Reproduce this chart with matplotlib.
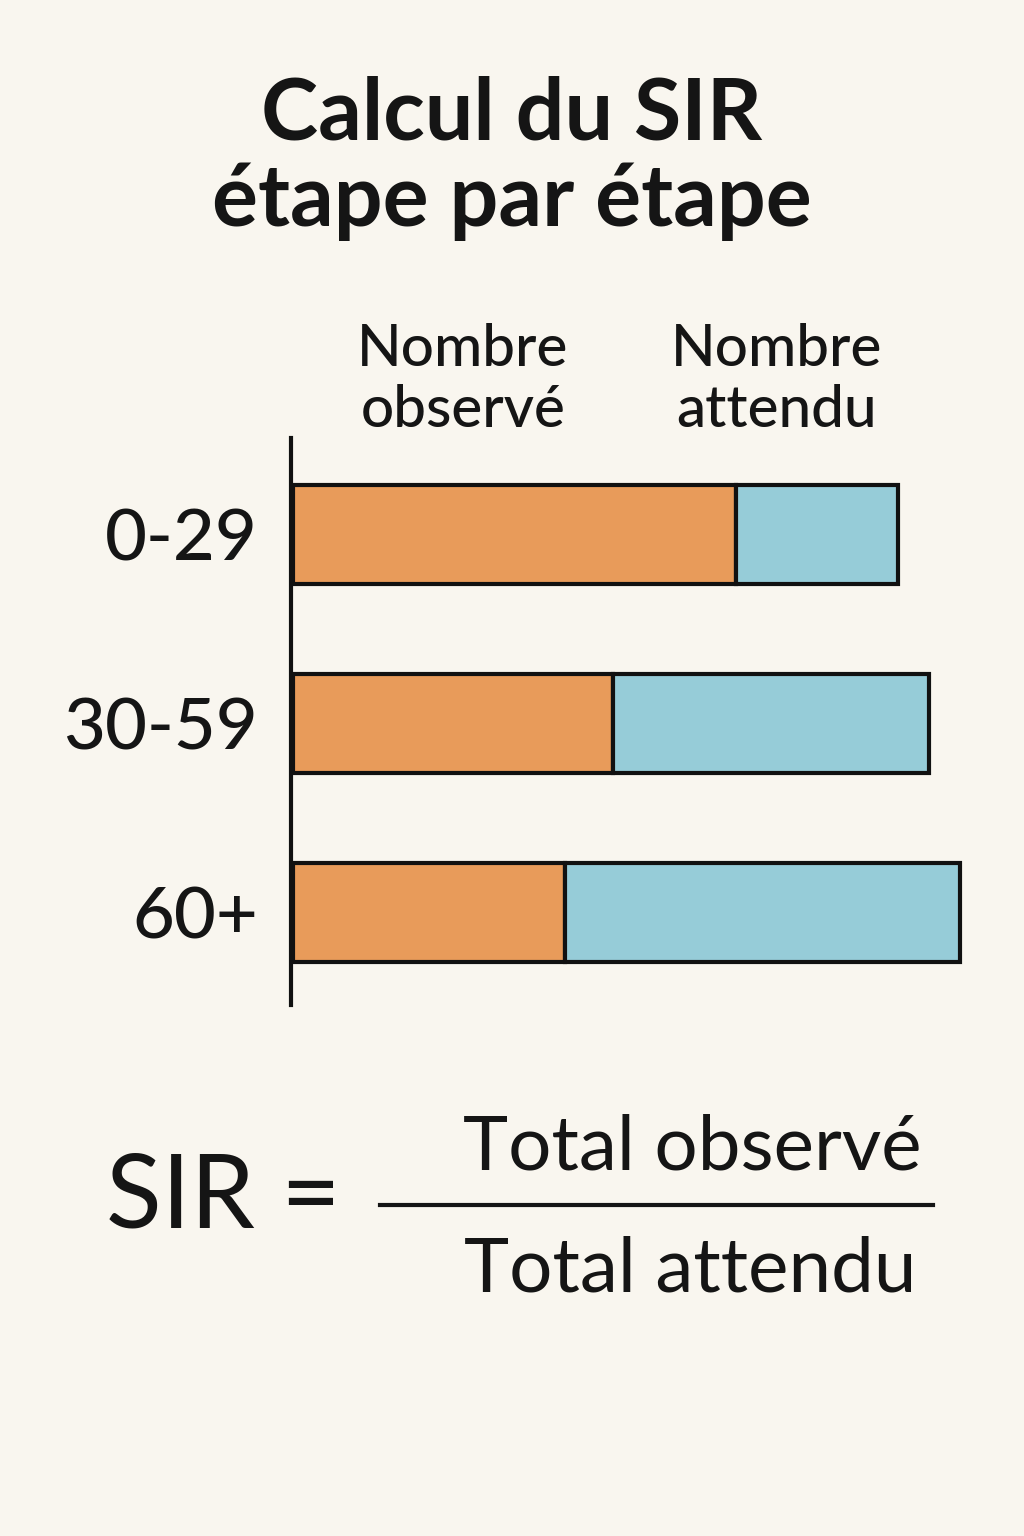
import matplotlib
matplotlib.use("Agg")
import matplotlib.pyplot as plt

# data
groups = ["0-29", "30-59", "60+"]
observed = [101, 73, 62]
expected = [37, 72, 90]
headers = ["Nombre\nobservé", "Nombre\nattendu"]

bg = "#F9F6EF"
orange = "#E89B5A"
blue = "#96CCD8"

W, H = 1024, 1536
fig = plt.figure(figsize=(W / 100, H / 100), dpi=100, facecolor=bg)

def fx(px):
    return px / W

def fy(py):
    return 1 - py / H

plt.rcParams['font.family'] = ['Lato', 'DejaVu Sans']

# title
fig.text(fx(512), fy(158), "Calcul du SIR\nétape par étape", ha="center", va="center",
         fontsize=62, fontweight="bold", color="#151515", linespacing=1.12)

# bar axes
ax = fig.add_axes([fx(291), fy(1005), fx(720), (1005 - 438) / H])
ax.set_facecolor("none")
ypos = list(range(len(groups)))
ax.barh(ypos, observed, height=0.52, color=orange, edgecolor="#111111", linewidth=3)
ax.barh(ypos, expected, left=observed, height=0.52, color=blue, edgecolor="#111111", linewidth=3)
ax.set_xlim(-0.4, 720 / 4.4)
ax.set_ylim(2.49, -0.51)
for s in ["top", "right", "bottom"]:
    ax.spines[s].set_visible(False)
ax.spines["left"].set_linewidth(3)
ax.spines["left"].set_color("#111111")
ax.set_xticks([])
ax.set_yticks(ypos)
ax.set_yticklabels(groups, fontsize=52, color="#151515", fontweight="medium")
ax.tick_params(axis="y", length=0, pad=24)

# column headers
fig.text(fx(463), fy(380), headers[0], ha="center", va="center", fontsize=42,
         color="#151515", linespacing=1.2, fontweight="medium")
fig.text(fx(777), fy(380), headers[1], ha="center", va="center", fontsize=42,
         color="#151515", linespacing=1.2, fontweight="medium")

# formula
fig.text(fx(223), fy(1198), "SIR =", ha="center", va="center", fontsize=74, color="#151515")
fig.add_artist(plt.Line2D([fx(380), fx(933)], [fy(1205), fy(1205)], color="#151515", lw=3,
                          transform=fig.transFigure))
fig.text(fx(692), fy(1148), "Total observé", ha="center", va="center", fontsize=55, color="#151515")
fig.text(fx(690), fy(1270), "Total attendu", ha="center", va="center", fontsize=55, color="#151515")

fig.savefig("out.png", dpi=100, facecolor=bg)
